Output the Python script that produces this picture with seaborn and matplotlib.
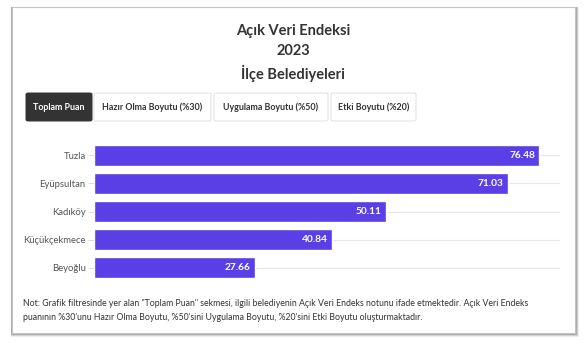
import matplotlib
matplotlib.use("Agg")
import matplotlib.pyplot as plt
from matplotlib.patches import Rectangle, FancyBboxPatch
import seaborn as sns
import pandas as pd

# Data
districts = ["Tuzla", "Eyüpsultan", "Kadıköy", "Küçükçekmece", "Beyoğlu"]
scores = [76.48, 71.03, 50.11, 40.84, 27.66]
tabs = ["Toplam Puan", "Hazır Olma Boyutu (%30)", "Uygulama Boyutu (%50)", "Etki Boyutu (%20)"]
title_lines = ["Açık Veri Endeksi", "2023", "İlçe Belediyeleri"]
note = ("Not: Grafik filtresinde yer alan \"Toplam Puan\" sekmesi, ilgili belediyenin Açık Veri Endeks notunu ifade etmektedir. Açık Veri Endeks\n"
        "puanının %30'unu Hazır Olma Boyutu, %50'sini Uygulama Boyutu, %20'sini Etki Boyutu oluşturmaktadır.")

BAR = "#5a3ee6"
W, H = 586, 348

sns.set_theme(style="white")
plt.rcParams["font.family"] = ["Lato", "DejaVu Sans"]

fig = plt.figure(figsize=(W / 100, H / 100), dpi=100)
fig.patch.set_facecolor("white")


def fx(px):
    return px / W


def fy(py):
    return 1 - py / H


# Card with soft shadow
for off, alpha in [(3.5, 0.10), (2.5, 0.18), (1.5, 0.30)]:
    fig.patches.append(Rectangle((fx(12 - 1.5), fy(333 + off)), fx(575 - 12 + 1.5 + off),
                                 (333 - 7 + off) / H, transform=fig.transFigure,
                                 facecolor="#555555", alpha=alpha, edgecolor="none", zorder=0))
fig.patches.append(Rectangle((fx(12), fy(333)), fx(575 - 12), (333 - 7) / H,
                             transform=fig.transFigure, facecolor="white",
                             edgecolor="#c4c4c4", linewidth=0.8, zorder=1))

# Title
for text, y in zip(title_lines, [31, 51, 73]):
    fig.text(fx(293), fy(y), text, ha="center", va="center", fontsize=10.5,
             fontweight="bold", color="#333333", zorder=3)

# Filter tabs
tab_x = [(26, 92), (94, 211), (214, 328), (331, 416)]
for i, (label, (x0, x1)) in enumerate(zip(tabs, tab_x)):
    active = i == 0
    fig.patches.append(FancyBboxPatch((fx(x0), fy(121)), fx(x1 - x0), 28 / H,
                                      boxstyle="round,pad=0,rounding_size=0.004",
                                      transform=fig.transFigure,
                                      facecolor="#333333" if active else "white",
                                      edgecolor="#333333" if active else "#e0e0e0",
                                      linewidth=0.7, zorder=2))
    fig.text(fx((x0 + x1) / 2), fy(107), label, ha="center", va="center", fontsize=6.4,
             fontweight="bold", color="white" if active else "#333333", zorder=3)

# Bar chart
ax = fig.add_axes([fx(94), fy(281.5), fx(560 - 94), 140 / H])
ax.set_zorder(2)
ax.patch.set_alpha(0)
df = pd.DataFrame({"district": districts, "score": scores})
sns.barplot(data=df, x="score", y="district", color=BAR, saturation=1, width=0.75,
            ax=ax, zorder=3)
ax.set_xlim(0, 80)
ax.set_xlabel("")
ax.set_ylabel("")
ax.set_xticks([])
for yy in range(len(districts)):
    ax.axhline(yy, color="#e8e8e8", linewidth=0.8, zorder=1)
for s in ax.spines.values():
    s.set_visible(False)
ax.tick_params(axis="y", length=4, width=0.6, color="#ccd6eb", labelsize=6.8,
               labelcolor="#555555", pad=2, left=True)
for yy, v in enumerate(scores):
    ax.annotate(f"{v:.2f}", xy=(v, yy), xytext=(-3, 0), textcoords="offset points",
                ha="right", va="center", fontsize=7.3, fontweight="bold",
                color="white", zorder=4)

# Footnote
fig.text(fx(23), fy(310.5), note, ha="left", va="center", fontsize=6.3,
         color="#333333", linespacing=1.6, zorder=3)

fig.savefig("out.png", dpi=100, facecolor="white")
